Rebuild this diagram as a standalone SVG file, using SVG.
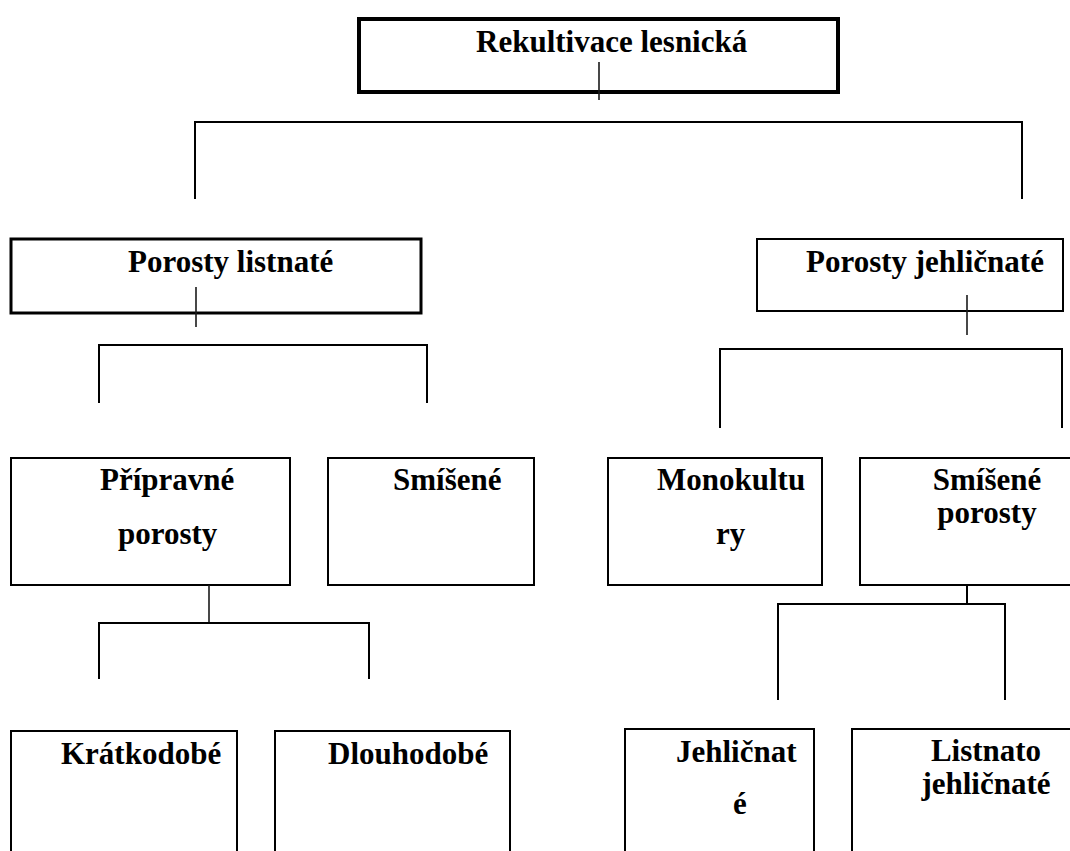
<svg xmlns="http://www.w3.org/2000/svg" width="1070" height="851" viewBox="0 0 1070 851">
<style>
  .bg { fill: #ffffff; }
  .box { fill: #ffffff; stroke: #000000; stroke-width: 2; }
  .thick { stroke-width: 4; }
  .mid { stroke-width: 3; }
  .t { font-family: "Liberation Serif", "Times New Roman", serif; font-weight: bold; font-size: 31px; fill: #000000; }
  .c { text-anchor: middle; }
  .ln { fill: none; stroke: #000000; stroke-width: 2; }
  .vl { fill: none; stroke: #1a1a1a; stroke-width: 1.6; }
</style>
<rect class="bg" x="0" y="0" width="1070" height="851"/>

<g id="n-root">
  <rect class="box thick" x="359" y="19" width="479" height="73"/>
  <text class="t" x="476" y="52">Rekultivace lesnická</text>
</g>
<g id="n-listnate">
  <rect class="box mid" x="11" y="239" width="410" height="74"/>
  <text class="t" x="128" y="272">Porosty listnaté</text>
</g>
<g id="n-jehlicnate">
  <rect class="box" x="757" y="239" width="306" height="72"/>
  <text class="t" x="806" y="272">Porosty jehličnaté</text>
</g>
<g id="n-pripravne">
  <rect class="box" x="11" y="458" width="279" height="127"/>
  <text class="t" x="100" y="490">Přípravné</text>
  <text class="t" x="118" y="544">porosty</text>
</g>
<g id="n-smisene">
  <rect class="box" x="328" y="458" width="206" height="127"/>
  <text class="t" x="393" y="490">Smíšené</text>
</g>
<g id="n-monokultury">
  <rect class="box" x="608" y="458" width="214" height="127"/>
  <text class="t" x="657" y="490">Monokultu</text>
  <text class="t" x="716" y="544">ry</text>
</g>
<g id="n-smisene-porosty">
  <rect class="box" x="860" y="458" width="260" height="127"/>
  <text class="t c" x="987" y="490">Smíšené</text>
  <text class="t c" x="987" y="523">porosty</text>
</g>
<g id="n-kratkodobe">
  <rect class="box" x="11" y="731" width="226" height="140"/>
  <text class="t" x="61" y="764">Krátkodobé</text>
</g>
<g id="n-dlouhodobe">
  <rect class="box" x="275" y="731" width="235" height="140"/>
  <text class="t" x="328" y="764">Dlouhodobé</text>
</g>
<g id="n-jehlicnate2">
  <rect class="box" x="625" y="729" width="189" height="140"/>
  <text class="t" x="676" y="762">Jehličnat</text>
  <text class="t" x="733" y="814">é</text>
</g>
<g id="n-listnato">
  <rect class="box" x="852" y="729" width="270" height="140"/>
  <text class="t c" x="986" y="761">Listnato</text>
  <text class="t c" x="986" y="794">jehličnaté</text>
</g>

<g id="connectors">
  <line class="vl" x1="599" y1="62" x2="599" y2="100"/>
  <path class="ln" d="M195,199 V122 H1022 V199"/>

  <line class="vl" x1="196" y1="287" x2="196" y2="327"/>
  <path class="ln" d="M99,403 V345 H427 V403"/>

  <line class="vl" x1="967" y1="295" x2="967" y2="335"/>
  <path class="ln" d="M720,428 V349 H1062 V428"/>

  <line class="vl" x1="209" y1="585" x2="209" y2="623"/>
  <path class="ln" d="M99,679 V623 H369 V679"/>

  <line class="ln" x1="967" y1="585" x2="967" y2="604"/>
  <path class="ln" d="M778,700 V604 H1005 V700"/>
</g>
</svg>
